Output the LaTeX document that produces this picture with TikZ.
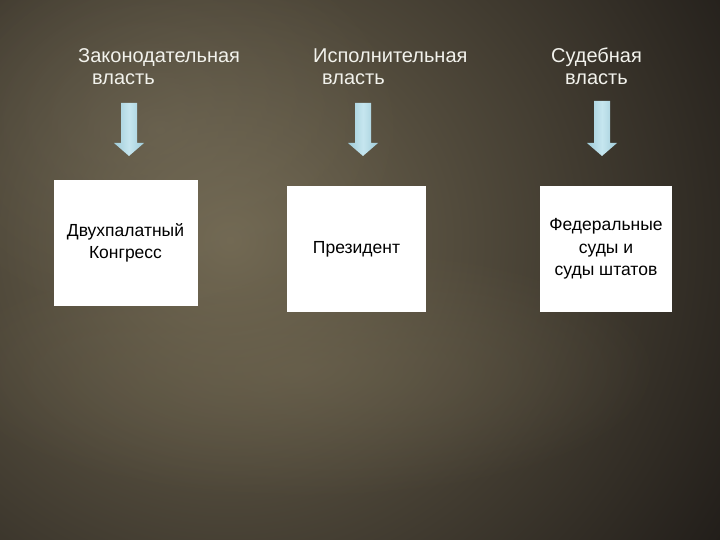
\documentclass[tikz,border=0pt]{standalone}
\usepackage{fontspec}
\setmainfont{Liberation Sans}
\usetikzlibrary{fadings}
\definecolor{bgdark}{HTML}{221E1A}
\definecolor{bglight}{HTML}{716852}
\definecolor{titlecol}{HTML}{F2F2EC}
\definecolor{arrowcol}{HTML}{C6E6EF}
\definecolor{arrowedge}{HTML}{9FCBD8}
\tikzfading[name=softglow, inner color=transparent!0, outer color=transparent!100]
\tikzset{
  titletext/.style={text=titlecol, inner sep=0pt, font=\fontsize{20}{23}\selectfont},
  boxnode/.style={fill=white, draw=none, inner sep=0pt, minimum height=126pt, align=center,
    font=\fontsize{17.5}{22.5}\selectfont, text=black},
  downarrow/.style={left color=arrowedge, right color=arrowedge, middle color=arrowcol, draw=none}
}
\newcommand{\blockarrow}[3]{% x, top, tip
  \shade[downarrow] (#1-8,#2) -- (#1+8,#2) -- (#1+8,#3-13) -- (#1+15,#3-13) -- (#1,#3)
    -- (#1-15,#3-13) -- (#1-8,#3-13) -- cycle;}
\begin{document}
\begin{tikzpicture}[x=1pt,y=-1pt]
\useasboundingbox (0,0) rectangle (720,540);
\fill[bgdark] (0,0) rectangle (720,540);
\begin{scope}
\clip (0,0) rectangle (720,540);
\shade[inner color=bglight, outer color=bgdark] (230,240) ellipse [x radius=580, y radius=560];
\fill[bglight, opacity=0.5, path fading=softglow] (300,370) ellipse [x radius=360, y radius=130];
\fill[bglight!92!white, opacity=0.35, path fading=softglow] (160,130) ellipse [x radius=250, y radius=200];
\end{scope}
% titles
\node[titletext, anchor=base west] (t1a) at (78,63) {Законодательная};
\node[titletext, anchor=base west] (t1b) at (92,85) {власть};
\node[titletext, anchor=base west] (t2a) at (313,63) {Исполнительная};
\node[titletext, anchor=base west] (t2b) at (322,85) {власть};
\node[titletext, anchor=base] (t3a) at (596.5,63) {Судебная};
\node[titletext, anchor=base] (t3b) at (596.5,85) {власть};
% arrows
\blockarrow{129}{103}{156}
\blockarrow{363}{103}{156}
\blockarrow{602}{101}{156}
% boxes
\node[boxnode, minimum width=144pt] (b1) at (125.5,243) {Двухпалатный\\Конгресс};
\node[boxnode, minimum width=139pt] (b2) at (356.5,249) {Президент};
\node[boxnode, minimum width=132pt] (b3) at (606,249) {Федеральные\\суды и\\суды штатов};
\end{tikzpicture}
\end{document}
